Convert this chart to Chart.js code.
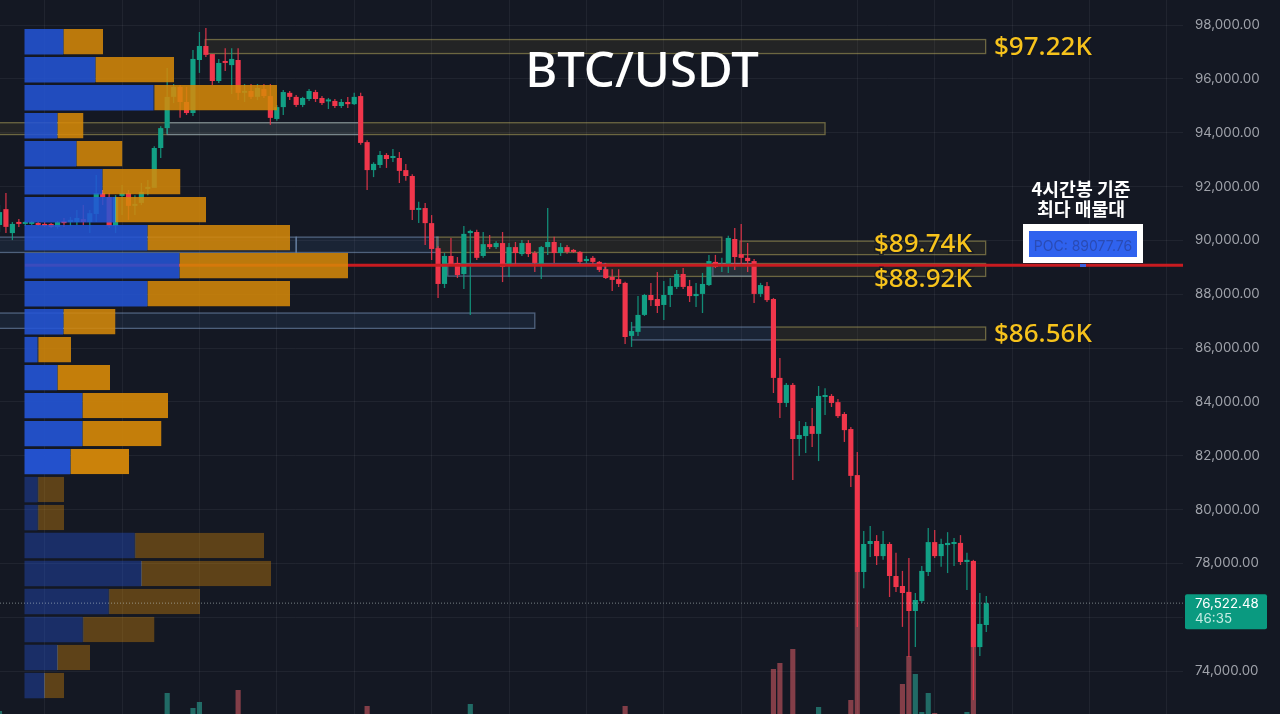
<!DOCTYPE html>
<html lang="ko">
<head>
<meta charset="utf-8">
<title>BTC/USDT</title>
<script src="https://cdn.jsdelivr.net/npm/chart.js@4"></script>
<style>
  html, body { margin: 0; padding: 0; background: #141823; overflow: hidden; }
  canvas { display: block; }
</style>
</head>
<body>
<canvas id="chart" width="1280" height="714"></canvas>
<script>
// 4h candles, oldest first
const opens = [90570,91160,90270,90680,90610,90610,90640,90610,90610,90500,90720,90680,90680,90790,90680,90980,91760,91610,90530,91650,91760,91280,91390,91910,91950,93430,94170,95330,95700,95140,94730,96700,97220,96920,95920,96660,96510,96700,95480,95550,95330,95620,95360,94510,94950,95480,95330,95030,95250,95510,95290,95160,95180,94990,95140,95060,95360,93650,92610,92800,93170,93060,93060,92610,92390,91130,91200,90640,89710,88380,89420,89160,88750,90270,90310,89420,89860,89750,89900,89050,89750,89490,89900,89530,89120,89750,89940,89530,89750,89640,89570,89230,89350,89200,88930,88640,88560,88420,86450,86600,87230,87970,87820,87600,87970,88270,88750,88300,87930,88010,88340,89200,89050,89050,90050,89490,89350,89230,88010,88300,87820,84890,83960,84630,82620,82730,83100,82810,84180,84220,83990,83550,82990,81280,77680,78720,78830,78270,78720,77530,77160,76940,76230,76600,77680,78790,78270,78680,78720,78760,78050,78090,74890,75710];
const highs = [91310,91760,90680,90790,90720,90720,90680,90680,90640,90720,90830,90870,91130,91310,91130,92430,91870,91760,91680,92060,91870,91680,92130,92240,93500,94240,96400,95810,95770,95700,97070,97740,97890,96920,96740,97140,97140,97140,95810,95810,95810,95810,95810,95030,95590,95550,95400,95330,95620,95590,95360,95290,95250,95250,95330,95480,95480,93720,92900,93320,93240,93390,93280,92840,92460,91430,91390,90940,89780,89530,90090,89380,90530,90390,90390,90310,90200,89970,90310,89900,89940,90010,90010,89600,89790,91200,90130,89900,89830,89680,89600,89420,89420,89230,89160,88930,88930,88460,86970,87930,88010,88420,88820,88490,88600,88900,88970,88530,88420,88790,89460,89460,89350,90170,90460,90610,89900,89310,88420,88450,87860,85630,84700,84700,83290,83250,83770,84590,84510,84290,84110,83620,83070,82140,79200,79390,79050,79200,78790,78390,77720,78200,76900,77900,79310,79240,78910,79160,78940,79050,78390,78130,76900,76790];
const lows = [90310,90270,90010,90500,90530,90570,90530,90500,90460,90430,90500,90530,90570,90570,90270,90680,91310,90460,90270,90940,90760,90940,91310,91680,92060,93060,93950,95100,94550,94660,94620,96220,96810,95770,95850,96290,95440,95210,95140,95250,95210,95290,94290,94440,94660,95210,94950,94950,95180,95140,95030,94880,94920,94920,94920,95030,93550,91870,92350,92690,92690,92910,92130,92210,90760,90640,89830,89270,87860,88230,89050,88600,88190,87230,89270,89350,89680,89680,88450,88640,89120,89420,89380,88820,88560,89460,89160,89420,89500,89530,89120,89160,89120,88820,88560,88120,88270,86150,86040,86450,87190,87560,87300,87040,87520,88190,88190,87710,87520,87300,88300,88970,88820,88790,88900,89050,88820,87670,87900,87710,84330,83400,83810,81100,81990,82100,82320,81800,83510,83810,83400,82510,80840,75640,77080,78240,77940,78130,76750,76940,75640,74520,74890,76530,77530,78200,77870,77640,77900,77940,77010,72920,74560,75450];
const closes = [91050,90500,90610,90610,90640,90640,90570,90530,90500,90680,90640,90760,90830,90680,91010,91760,91610,90530,91610,91760,91280,91350,91800,91980,93430,94170,95330,95700,95140,94730,96740,97220,96890,95920,96590,96590,96740,95480,95550,95330,95660,95360,94550,94950,95510,95330,95030,95290,95550,95250,95100,95210,94990,95140,95060,95330,93620,92610,92840,93170,93020,93130,92580,92390,91130,91200,90640,89680,88380,89420,89120,88710,90240,90350,89350,89860,89750,89900,89010,89750,89530,89900,89490,89160,89750,89940,89530,89750,89570,89570,89200,89310,89200,88900,88600,88530,88380,86410,86630,87230,87970,87780,87560,87970,88300,88750,88270,87930,88010,88380,89230,89010,89120,90090,89380,89350,89230,88010,88340,87780,84890,83960,84630,82620,82770,83100,82810,84220,84250,83960,83470,82950,81250,77680,78720,78830,78270,78720,77530,77120,76900,76230,76640,77720,78790,78270,78720,78760,78790,78050,78130,74890,75750,76520];

// candle volumes that reach above the bottom edge of the picture
const volumeIndex = [0,26,30,31,37,57,73,97,120,121,123,127,132,133,140,141,142,143,144,145,150,151];
const volumeValue = [2300,4100,2600,3200,4400,2800,3000,2800,6500,7100,8500,2700,3400,16200,5000,7800,6000,2200,4100,2100,2200,8700];

// volume profile rows
const profilePrice = [97380,96340,95300,94260,93220,92180,91140,90100,89060,88020,86980,85940,84900,83860,82820,81780,80740,79700,78660,77620,76580,75540,74500,73460];
const profileBuy = [385,705,1290,325,515,775,905,1225,1545,1225,385,130,325,575,575,455,130,130,1100,1165,840,580,325,195];
const profileSell = [400,790,1235,265,465,785,910,1430,1690,1430,525,335,530,860,795,590,265,265,1295,1300,915,720,330,200];

// supply / demand zones, x in candle index
const goldZones = [
  [31.9, 152.9, 97460, 96940],
  [-2, 128, 94370, 93930],
  [67.8, 112, 90120, 89550],
  [114.8, 152.9, 89970, 89470],
  [93.9, 152.9, 89140, 88660],
  [119.8, 152.9, 86780, 86300]
];
const blueZones = [
  [26, 55.9, 94370, 93930],
  [-2, 46, 90120, 89550],
  [46, 68, 90120, 89550],
  [-2, 83, 87300, 86730],
  [98, 119.8, 86780, 86300],
  [69.5, 93.9, 89140, 88670],
  [110.6, 116.8, 89140, 88670]
];

const priceTicks = [98000,96000,94000,92000,90000,88000,86000,84000,82000,80000,78000,76000,74000];
const timeTicks = [7,19,31,43,55,67,79,91,103,115,133,145,157,169,181];

const pocPrice = 89077.76;
const lastPrice = 76522.48;
const countdown = "46:35";

const UP = "#12a085";
const DOWN = "#f0364b";

const candleIndex = opens.map((o, i) => i);
const fmtPrice = v => v.toLocaleString("en-US", { minimumFractionDigits: 2, maximumFractionDigits: 2 });

function profileAlpha(i) {
  if (i >= 16) return 0.38;
  if (i === 15) return 0.94;
  if (i >= 12) return 0.9;
  return 0.86;
}

const zonesPlugin = {
  id: "zones",
  beforeDatasetsDraw(chart) {
    const { ctx, chartArea, scales } = chart;
    const drawZones = (zones, fill, stroke) => {
      zones.forEach(z => {
        const x0 = scales.x.getPixelForValue(z[0]);
        const x1 = scales.x.getPixelForValue(z[1]);
        const y0 = scales.y.getPixelForValue(z[2]);
        const y1 = scales.y.getPixelForValue(z[3]);
        ctx.fillStyle = fill;
        ctx.strokeStyle = stroke;
        ctx.lineWidth = 1.3;
        ctx.fillRect(x0, y0, x1 - x0, y1 - y0);
        ctx.strokeRect(x0, y0, x1 - x0, y1 - y0);
      });
    };
    ctx.save();
    ctx.beginPath();
    ctx.rect(chartArea.left, chartArea.top, chartArea.right - chartArea.left, chartArea.bottom - chartArea.top);
    ctx.clip();
    drawZones(goldZones, "rgba(190,170,70,0.09)", "rgba(190,175,95,0.5)");
    drawZones(blueZones, "rgba(70,120,190,0.12)", "rgba(135,165,205,0.5)");
    ctx.restore();
  }
};

function goldLabel(ctx, text, px, py) {
  ctx.font = "500 26px 'Noto Sans'";
  ctx.textAlign = "left";
  ctx.textBaseline = "middle";
  ctx.lineWidth = 3;
  ctx.strokeStyle = "rgba(20,24,35,0.8)";
  ctx.strokeText(text, px, py);
  ctx.fillStyle = "#f7c31c";
  ctx.fillText(text, px, py);
}

const labelsPlugin = {
  id: "labels",
  afterDraw(chart) {
    const { ctx, scales } = chart;
    const y = scales.y;
    ctx.save();

    ctx.font = "500 49px 'Noto Sans'";
    ctx.fillStyle = "#ffffff";
    ctx.textAlign = "center";
    ctx.textBaseline = "middle";
    ctx.fillText("BTC/USDT", 642, 73);

    goldLabel(ctx, "$97.22K", 994, y.getPixelForValue(97220) + 1.5);
    goldLabel(ctx, "$89.74K", 874, y.getPixelForValue(89900) + 1.5);
    goldLabel(ctx, "$88.92K", 874, y.getPixelForValue(88600) + 1.5);
    goldLabel(ctx, "$86.56K", 994, y.getPixelForValue(86560) + 1.5);

    ctx.font = "700 18.3px 'Noto Sans CJK KR'";
    ctx.fillStyle = "#ffffff";
    ctx.textAlign = "center";
    ctx.fillText("4시간봉 기준", 1081, 189);
    ctx.fillText("최다 매물대", 1081, 209);

    // POC tag
    ctx.fillStyle = "#ffffff";
    ctx.fillRect(1023, 224, 120, 39);
    ctx.fillStyle = "#2f62ee";
    ctx.fillRect(1029, 231, 108, 26);
    ctx.font = "14px Inter";
    ctx.fillStyle = "#2a4bb4";
    ctx.fillText("POC: " + pocPrice, 1083, 247);
    ctx.fillStyle = "#3f63e0";
    ctx.fillRect(1080, 264, 6, 3);

    // last price tag
    const py = y.getPixelForValue(lastPrice);
    ctx.fillStyle = "#0a9a80";
    ctx.beginPath();
    ctx.roundRect(1185, py - 9, 82, 35, 2);
    ctx.fill();
    ctx.font = "13.3px Inter";
    ctx.textAlign = "left";
    ctx.fillStyle = "#ffffff";
    ctx.fillText(fmtPrice(lastPrice), 1195, py + 0.5);
    ctx.fillStyle = "#c5ece3";
    ctx.fillText(countdown, 1195, py + 15.5);
    ctx.restore();
  }
};

const xMin = 0.08;
const xMax = 183.5;

new Chart(document.getElementById("chart"), {
  type: "bar",
  data: {
    datasets: [
      {
        label: "buy",
        indexAxis: "y",
        xAxisID: "vp",
        yAxisID: "yp",
        order: 0,
        grouped: false,
        categoryPercentage: 1,
        barPercentage: 0.91,
        data: profilePrice.map((p, i) => ({ x: [0, profileBuy[i]], y: p })),
        backgroundColor: profilePrice.map((p, i) => `rgba(36,85,215,${profileAlpha(i)})`)
      },
      {
        label: "sell",
        indexAxis: "y",
        xAxisID: "vp",
        yAxisID: "yp",
        order: 0,
        grouped: false,
        categoryPercentage: 1,
        barPercentage: 0.91,
        borderWidth: { left: 1, right: 0, top: 0, bottom: 0 },
        borderSkipped: false,
        borderColor: "rgba(190,190,190,0.35)",
        data: profilePrice.map((p, i) => ({ x: [profileBuy[i], profileBuy[i] + profileSell[i]], y: p })),
        backgroundColor: profilePrice.map((p, i) => `rgba(215,137,8,${profileAlpha(i)})`)
      },
      {
        label: "POC",
        type: "line",
        yAxisID: "y",
        order: 1,
        data: [{ x: 3.95, y: pocPrice }, { x: xMax, y: pocPrice }],
        borderColor: "#c81b20",
        borderWidth: 3,
        pointRadius: 0
      },
      {
        label: "last",
        type: "line",
        yAxisID: "y",
        order: -1,
        data: [{ x: xMin, y: lastPrice }, { x: xMax, y: lastPrice }],
        borderColor: "rgba(200,215,215,0.55)",
        borderWidth: 1,
        borderDash: [1, 2],
        pointRadius: 0
      },
      {
        label: "body",
        yAxisID: "y",
        order: 2,
        grouped: false,
        categoryPercentage: 1,
        barPercentage: 0.8,
        minBarLength: 2,
        data: candleIndex.map(i => ({ x: i, y: [opens[i], closes[i]] })),
        backgroundColor: candleIndex.map(i => closes[i] >= opens[i] ? UP : DOWN)
      },
      {
        label: "wick",
        yAxisID: "y",
        order: 3,
        grouped: false,
        categoryPercentage: 1,
        barPercentage: 0.2,
        data: candleIndex.map(i => ({ x: i, y: [lows[i], highs[i]] })),
        backgroundColor: candleIndex.map(i => closes[i] >= opens[i] ? "rgba(18,160,133,0.85)" : "rgba(240,54,75,0.85)")
      },
      {
        label: "volume",
        yAxisID: "v",
        order: 5,
        grouped: false,
        categoryPercentage: 1,
        barPercentage: 0.8,
        data: volumeIndex.map((idx, i) => ({ x: idx, y: volumeValue[i] })),
        backgroundColor: volumeIndex.map(idx => closes[idx] >= opens[idx] ? "rgba(45,190,170,0.5)" : "rgba(242,100,110,0.5)")
      }
    ]
  },
  options: {
    responsive: false,
    animation: false,
    layout: { padding: 0 },
    plugins: { legend: { display: false }, tooltip: { enabled: false } },
    scales: {
      x: {
        type: "linear",
        bounds: "data",
        offset: false,
        min: xMin,
        max: xMax,
        grid: { color: "rgba(255,255,255,0.055)", drawTicks: false, offset: false },
        border: { display: false },
        ticks: { display: false, stepSize: 12, includeBounds: false },
        afterBuildTicks: s => { s.ticks = timeTicks.map(v => ({ value: v })); },
        afterFit: s => { s.height = 0; }
      },
      y: {
        type: "linear",
        position: "right",
        bounds: "data",
        beginAtZero: false,
        min: 72404,
        max: 98929,
        grid: { color: "rgba(255,255,255,0.055)", drawTicks: false },
        border: { display: false },
        ticks: {
          color: "#a0a3ab",
          padding: 12,
          autoSkip: false,
          stepSize: 2000,
          includeBounds: false,
          font: { family: "Inter", size: 13.3 },
          callback: v => fmtPrice(v)
        },
        afterBuildTicks: s => { s.ticks = priceTicks.map(v => ({ value: v })); },
        afterFit: s => { s.width = 97; s.paddingTop = 0; s.paddingBottom = 0; }
      },
      yp: {
        type: "linear",
        display: false,
        bounds: "data",
        offset: false,
        beginAtZero: false,
        min: 72404,
        max: 98929,
        grid: { offset: false },
        ticks: { stepSize: 5000, includeBounds: false }
      },
      v: {
        type: "linear",
        display: false,
        bounds: "data",
        beginAtZero: false,
        min: 2000,
        max: 73400
      },
      vp: {
        type: "linear",
        axis: "x",
        display: false,
        bounds: "data",
        offset: false,
        beginAtZero: false,
        min: -245,
        max: 11585
      }
    }
  },
  plugins: [zonesPlugin, labelsPlugin]
});
</script>
</body>
</html>
